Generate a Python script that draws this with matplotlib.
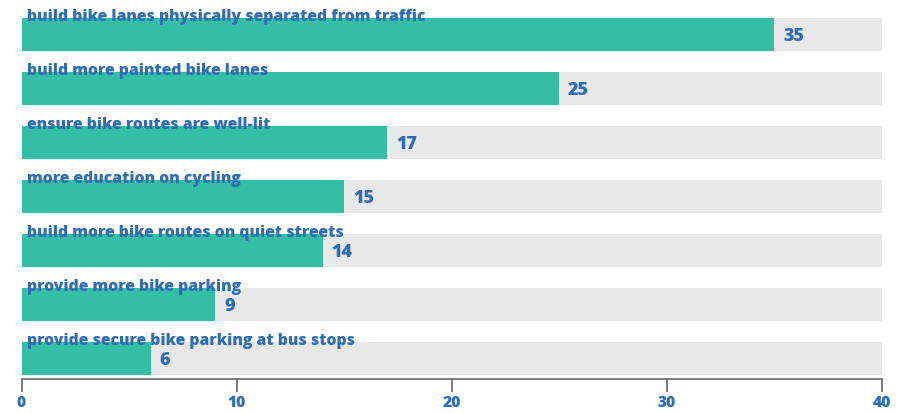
import matplotlib
matplotlib.use("Agg")
import matplotlib.pyplot as plt

categories = [
    "build bike lanes physically separated from traffic",
    "build more painted bike lanes",
    "ensure bike routes are well-lit",
    "more education on cycling",
    "build more bike routes on quiet streets",
    "provide more bike parking",
    "provide secure bike parking at bus stops",
]
values = [35, 25, 17, 15, 14, 9, 6]
x_max = 40
x_ticks = [0, 10, 20, 30, 40]

TEAL = "#36BDA6"
GREY = "#E8E8E8"
BLUE = "#2F6DB5"
AXIS = "#666666"
FONT = "Open Sans"
FS = 11.3
FS_VAL = 13.0
WEIGHT = 800

W, H = 913, 414
fig = plt.figure(figsize=(W / 100, H / 100), dpi=100)
ax = fig.add_axes([21.5 / W, (H - 380) / H, 860 / W, 380 / H])

pos = list(range(len(categories)))
bar_h = 0.61
ax.barh(pos, [x_max] * len(pos), height=bar_h, color=GREY, zorder=1)
ax.barh(pos, values, height=bar_h, color=TEAL, zorder=2)

for y, cat, v in zip(pos, categories, values):
    ax.text(0.26, y - 0.27, cat, ha="left", va="baseline", fontsize=FS,
            fontweight=WEIGHT, color=BLUE, family=FONT, zorder=3)
    ax.text(v + 0.42, y + 0.02, str(v), ha="left", va="center", fontsize=FS_VAL,
            fontweight=WEIGHT, color=BLUE, family=FONT, zorder=3)

ax.set_xlim(0, x_max)
ax.set_ylim(6.385, -0.658)
ax.set_xticks(x_ticks)
ax.set_xticklabels([str(t) for t in x_ticks], fontsize=FS, fontweight=WEIGHT,
                   color=BLUE, family=FONT)
ax.set_yticks([])
for s in ["top", "right", "left"]:
    ax.spines[s].set_visible(False)
ax.spines["bottom"].set_color(AXIS)
ax.spines["bottom"].set_linewidth(1.2)
ax.tick_params(axis="x", length=9, width=1.2, color=AXIS, pad=2)
ax.patch.set_alpha(0)

fig.savefig("out.png", dpi=100)
